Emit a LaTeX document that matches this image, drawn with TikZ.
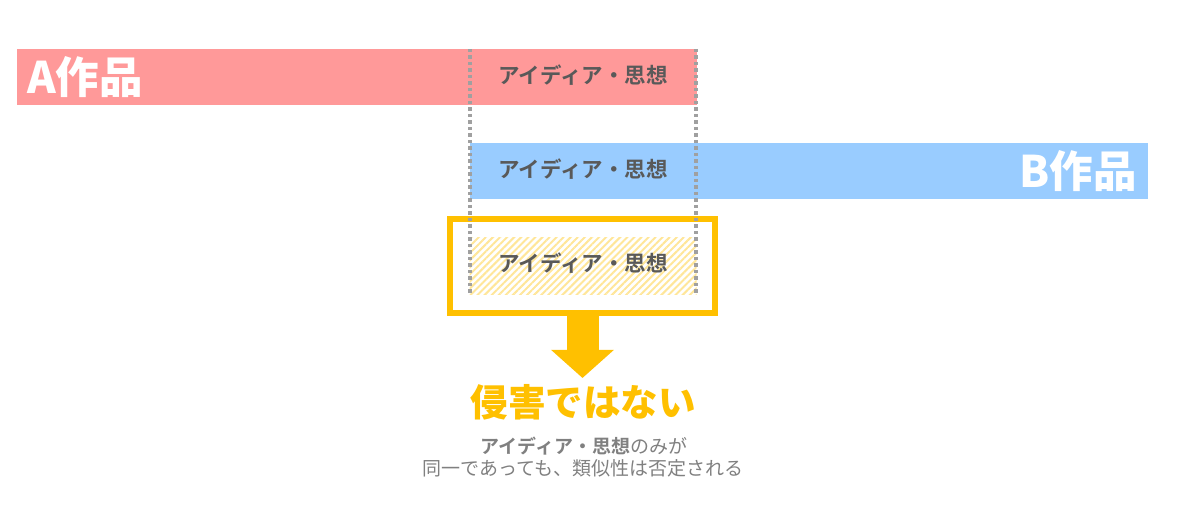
\documentclass[tikz,border=0pt]{standalone}
\usepackage{fontspec}
\newfontfamily\jp{Noto Sans CJK JP}
\newfontfamily\jpb{Noto Sans CJK JP Bold}
\newfontfamily\jpk{Noto Sans CJK JP Black}
\usetikzlibrary{arrows.meta,patterns.meta}
\definecolor{barA}{HTML}{FF9999}
\definecolor{barB}{HTML}{99CCFF}
\definecolor{ylw}{HTML}{FFC000}
\definecolor{hatch}{HTML}{FFE699}
\definecolor{txt}{HTML}{595959}
\definecolor{dots}{HTML}{A0A0A0}
\definecolor{note}{HTML}{808080}
\begin{document}
\begin{tikzpicture}[x=1pt,y=-1pt,
  bar/.style={rectangle,inner sep=0,outer sep=0,minimum height=56pt},
  idea/.style={font=\jpb\fontsize{21.5}{24}\selectfont,text=txt,inner sep=0},
  work/.style={font=\jpk\fontsize{43.5}{48}\selectfont,text=white,inner sep=0},
  dotline/.style={draw=dots,line width=3.5pt,dash pattern=on 3.5pt off 3pt},
]
\useasboundingbox (0,0) rectangle (1195,518);
% bars
\node[bar,fill=barA,minimum width=680pt] (A) at (357,77) {};
\node[bar,fill=barB,minimum width=678pt] (B) at (809,171) {};
% hatched overlap
\node[rectangle,inner sep=0,minimum width=227pt,minimum height=57pt,
  pattern={Lines[angle=45,distance=5pt,line width=2pt]},pattern color=hatch] (H) at (583,266.5) {};
% yellow frame
\node[rectangle,draw=ylw,line width=6pt,inner sep=0,minimum width=265pt,minimum height=94pt] (box) at (582.5,266) {};
% dotted guides
\coordinate (d1t) at (470,49);
\coordinate (d1b) at (470,295);
\coordinate (d2t) at (696,49);
\coordinate (d2b) at (696,295);
\draw[dotline] (d1t) -- (d1b);
\draw[dotline] (d2t) -- (d2b);
% labels
\node[work,anchor=west] (Alab) at (27,77) {A作品};
\node[work,anchor=east] (Blab) at (1137,171) {B作品};
\node[idea] (ia) at (583,75) {アイディア・思想};
\node[idea] (ib) at (583,169) {アイディア・思想};
\node[idea] (ih) at (583,263) {アイディア・思想};
% arrow
\coordinate (tip) at (582.5,378);
\draw[ylw,line width=32pt,-{Triangle[width=61pt,length=28pt]}] (box.south) -- (tip);
% result
\node[font=\jpk\fontsize{37.5}{40}\selectfont,text=ylw,inner sep=0] (res) at (583,402) {侵害ではない};
\node[font=\jp\fontsize{19}{20}\selectfont,text=note,inner sep=0] (n1) at (584,446) {{\jpb アイディア・思想}のみが};
\node[font=\jp\fontsize{19}{20}\selectfont,text=note,inner sep=0] (n2) at (583,468) {同一であっても、類似性は否定される};
\end{tikzpicture}
\end{document}
